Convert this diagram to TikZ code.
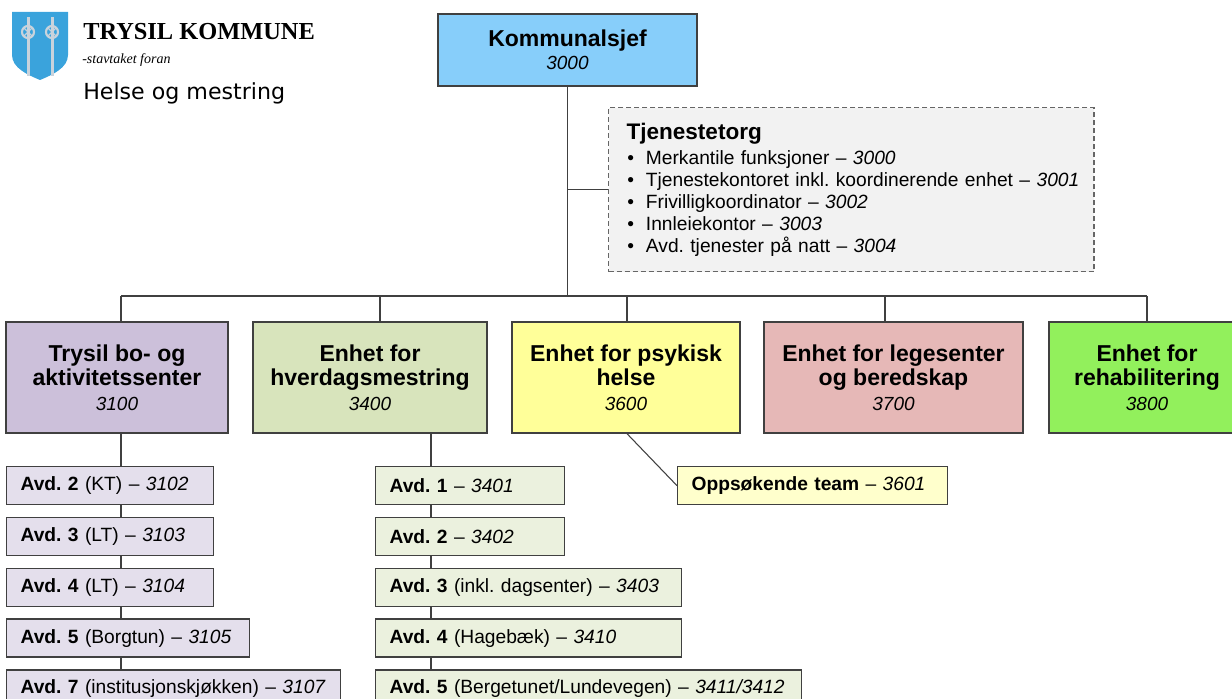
\documentclass[tikz,border=0pt]{standalone}
\usepackage{fontspec}
\setmainfont{Liberation Sans}
\newfontfamily\logoserif{Liberation Serif}
\newfontfamily\logosans{DejaVu Sans}
\usetikzlibrary{positioning}
\frenchspacing

\definecolor{chefBlue}{HTML}{87CEFA}
\definecolor{torgGray}{HTML}{F2F2F2}
\definecolor{boPurple}{HTML}{CCC0DA}
\definecolor{boLight}{HTML}{E4DFEC}
\definecolor{hvGreen}{HTML}{D8E4BC}
\definecolor{hvLight}{HTML}{EBF1DE}
\definecolor{psYellow}{HTML}{FFFF99}
\definecolor{psLight}{HTML}{FFFFCC}
\definecolor{legRed}{HTML}{E6B8B7}
\definecolor{rehGreen}{HTML}{92F05C}
\definecolor{lineGray}{HTML}{404040}
\definecolor{shieldBlue}{HTML}{3AA3DC}
\definecolor{poleGray}{HTML}{C9D3DC}

\newcommand{\unitNr}[1]{{\fontsize{14.25}{16}\selectfont\mdseries\itshape #1}}
\newcommand{\torgItem}[1]{\mbox{\makebox[14.5pt][l]{\hspace{0.5pt}\textbullet}#1}}

\begin{document}
\begin{tikzpicture}[x=0.75pt, y=-0.75pt,
    orgLine/.style={draw=lineGray, line width=0.8pt},
    chefBlock/.style={
      draw=lineGray, line width=1pt, fill=chefBlue, align=center,
      minimum width=194.25pt, minimum height=54pt,
      font=\fontsize{17.25}{17.5}\selectfont\bfseries
    },
    torgBlock/.style={
      draw=lineGray!80, dash pattern=on 4pt off 2pt, line width=0.9pt,
      fill=torgGray, align=left, text width=337pt,
      minimum height=123pt, inner xsep=13.5pt,
      font=\fontsize{14.4}{16.5}\selectfont
    },
    unitBlock/.style={
      draw=lineGray, line width=1pt, fill=#1, align=center,
      minimum height=83.25pt, inner sep=2pt,
      font=\fontsize{17.25}{18.5}\selectfont\bfseries
    },
    avdBlock/.style={
      draw=lineGray, line width=1pt, align=left, text width=#1,
      minimum height=28.5pt, inner xsep=10.5pt, inner ysep=2pt,
      font=\fontsize{14.4}{16}\selectfont
    },
    boAvd/.style={avdBlock=#1, fill=boLight},
    hvAvd/.style={avdBlock=#1, fill=hvLight}
  ]
  \useasboundingbox (0,0) rectangle (1232,699);

  % logo
  \fill[shieldBlue] (12,12) -- (68,12) -- (68,55)
    .. controls (68,68) and (52,75) .. (40,80)
    .. controls (28,75) and (12,68) .. (12,55) -- cycle;
  \fill[poleGray] (26.5,17) rectangle (29.5,76);
  \fill[poleGray] (50.5,17) rectangle (53.5,76);
  \draw[poleGray, line width=1.6pt] (28,32) circle (6);
  \draw[poleGray, line width=1.6pt] (52,32) circle (6);
  \draw[poleGray, line width=0.9pt] (24,28) -- (32,36) (24,36) -- (32,28);
  \draw[poleGray, line width=0.9pt] (48,28) -- (56,36) (48,36) -- (56,28);
  \node[anchor=base west, inner sep=0pt,
        font=\logoserif\fontsize{18.3}{19}\selectfont\bfseries] (kommune) at (83,40) {TRYSIL KOMMUNE};
  \node[anchor=base west, inner sep=0pt,
        font=\logoserif\itshape\fontsize{10.5}{11}\selectfont] (motto) at (82,64) {-stavtaket foran};
  \node[anchor=base west, inner sep=0pt,
        font=\logosans\fontsize{16.6}{18}\selectfont] (omraade) at (83,99) {Helse og mestring};

  \node[chefBlock] (chef) at (567.5,50) {Kommunalsjef\\\unitNr{3000}};
  \node[torgBlock, anchor=north west] (torg) at (608,107) {%
    {\fontsize{16.9}{16.5}\selectfont\bfseries Tjenestetorg}\\[2pt]
    \torgItem{Merkantile funksjoner – \textit{3000}}\\
    \torgItem{Tjenestekontoret inkl. koordinerende enhet – \textit{3001}}\\
    \torgItem{Frivilligkoordinator – \textit{3002}}\\
    \torgItem{Innleiekontor – \textit{3003}}\\
    \torgItem{Avd. tjenester på natt – \textit{3004}}};

  \node[unitBlock=boPurple, minimum width=166.5pt] (bo) at (117,377.5) {Trysil bo- og\\aktivitetssenter\\\unitNr{3100}};
  \node[unitBlock=hvGreen, minimum width=175.5pt] (hv) at (370,377.5) {Enhet for\\hverdagsmestring\\\unitNr{3400}};
  \node[unitBlock=psYellow, minimum width=171pt] (ps) at (626,377.5) {Enhet for psykisk\\helse\\\unitNr{3600}};
  \node[unitBlock=legRed, minimum width=194.25pt] (leg) at (893.5,377.5) {Enhet for legesenter\\og beredskap\\\unitNr{3700}};
  \node[unitBlock=rehGreen, minimum width=147pt] (reh) at (1147,377.5) {Enhet for\\rehabilitering\\\unitNr{3800}};

  \node[boAvd=134.25pt, anchor=north west] (bo2) at (6,466) {\textbf{Avd. 2} (KT) – \textit{3102}};
  \node[boAvd=134.25pt, below=8.6pt of bo2.south west, anchor=north west] (bo3) {\textbf{Avd. 3} (LT) – \textit{3103}};
  \node[boAvd=134.25pt, below=8.6pt of bo3.south west, anchor=north west] (bo4) {\textbf{Avd. 4} (LT) – \textit{3104}};
  \node[boAvd=161.25pt, below=8.6pt of bo4.south west, anchor=north west] (bo5) {\textbf{Avd. 5} (Borgtun) – \textit{3105}};
  \node[boAvd=229.5pt, below=8.6pt of bo5.south west, anchor=north west] (bo7) {\textbf{Avd. 7} (institusjonskjøkken) – \textit{3107}};

  \node[hvAvd=120.75pt, anchor=north west] (hv1) at (375,466) {\textbf{Avd. 1} – \textit{3401}};
  \node[hvAvd=120.75pt, below=8.6pt of hv1.south west, anchor=north west] (hv2) {\textbf{Avd. 2} – \textit{3402}};
  \node[hvAvd=208.5pt, below=8.6pt of hv2.south west, anchor=north west] (hv3) {\textbf{Avd. 3} (inkl. dagsenter) – \textit{3403}};
  \node[hvAvd=208.5pt, below=8.6pt of hv3.south west, anchor=north west] (hv4) {\textbf{Avd. 4} (Hagebæk) – \textit{3410}};
  \node[hvAvd=298.5pt, below=8.6pt of hv4.south west, anchor=north west] (hv5) {\textbf{Avd. 5} (Bergetunet/Lundevegen) – \textit{3411/3412}};

  \node[avdBlock=181.5pt, fill=psLight, anchor=north west] (opp) at (677,466) {\textbf{Oppsøkende team} – \textit{3601}};

  % connectors
  \coordinate (bus1) at (121,296);
  \coordinate (bus2) at (380,296);
  \coordinate (bus3) at (627,296);
  \coordinate (bus4) at (885,296);
  \coordinate (bus5) at (1147,296);
  \coordinate (boLine) at (121,0);
  \coordinate (hvLine) at (431,0);
  \draw[orgLine] (chef.south) -- (chef.south |- bus1);
  \draw[orgLine] (torg.west) -- (torg.west -| chef.south);
  \draw[orgLine] (bus1) -- (bus5);
  \draw[orgLine] (bus1) -- (bus1 |- bo.north);
  \draw[orgLine] (bus2) -- (bus2 |- hv.north);
  \draw[orgLine] (bus3) -- (bus3 |- ps.north);
  \draw[orgLine] (bus4) -- (bus4 |- leg.north);
  \draw[orgLine] (bus5) -- (bus5 |- reh.north);
  \draw[orgLine] (bo.south -| boLine) -- (bo2.north -| boLine);
  \draw[orgLine] (bo2.south -| boLine) -- (bo3.north -| boLine);
  \draw[orgLine] (bo3.south -| boLine) -- (bo4.north -| boLine);
  \draw[orgLine] (bo4.south -| boLine) -- (bo5.north -| boLine);
  \draw[orgLine] (bo5.south -| boLine) -- (bo7.north -| boLine);
  \draw[orgLine] (hv.south -| hvLine) -- (hv1.north -| hvLine);
  \draw[orgLine] (hv1.south -| hvLine) -- (hv2.north -| hvLine);
  \draw[orgLine] (hv2.south -| hvLine) -- (hv3.north -| hvLine);
  \draw[orgLine] (hv3.south -| hvLine) -- (hv4.north -| hvLine);
  \draw[orgLine] (hv4.south -| hvLine) -- (hv5.north -| hvLine);
  \draw[orgLine] (ps.south -| bus3) -- (opp.west);
\end{tikzpicture}
\end{document}
